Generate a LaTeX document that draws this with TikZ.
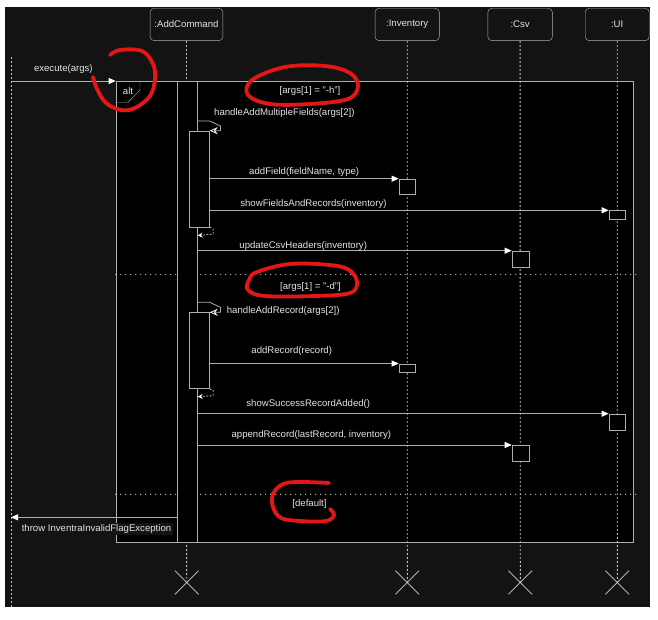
\documentclass[tikz,border=0pt]{standalone}
\usepackage{fontspec}
\setmainfont{Liberation Sans}
\usetikzlibrary{arrows.meta,shapes.misc}
\definecolor{bgcol}{RGB}{19,19,19}
\definecolor{lncol}{RGB}{175,175,175}
\definecolor{txtcol}{RGB}{228,228,228}
\definecolor{markred}{RGB}{228,22,22}
\tikzset{
  participant/.style={draw=lncol, fill=bgcol, rounded corners=4pt, minimum height=32.4pt},
  lifeline/.style={draw=lncol!80!white, line width=0.9pt, dash pattern=on 2pt off 2pt},
  destroy/.style={draw=lncol, cross out, minimum size=23pt, line width=0.8pt},
  altframe/.style={draw=lncol, fill=black, anchor=north west},
  act/.style={draw=lncol, fill=black, anchor=north west},
  sep/.style={draw=lncol!70!white, line width=1.4pt, line cap=round, dash pattern=on 0pt off 5pt},
  msg/.style={draw=lncol, line width=0.8pt, -{Triangle[length=7pt,width=6pt,color=white]}},
  selfcall/.style={draw=lncol, line width=0.8pt, -{Stealth[open,length=8pt,width=7pt,color=white]}},
  ret/.style={draw=lncol, line width=0.8pt, dash pattern=on 2pt off 1.5pt, -{Stealth[length=5pt,width=5pt,color=white]}},
  annot/.style={draw=markred, line width=3.8pt, line cap=round, line join=round}
}
\begin{document}
\begin{tikzpicture}[x=1pt,y=-1pt,every node/.style={font=\fontsize{9.6}{11.5}\selectfont, text=txtcol, inner sep=0pt}]
\fill[white] (0,0) rectangle (658,620);
\useasboundingbox (0,0) rectangle (658,620);
\fill[bgcol] (5,7.5) rectangle (650,607);

\node[participant, minimum width=72.7pt] at (186.5,24.5) (addcmd) {:AddCommand};
\node[participant, minimum width=64.3pt] at (407.2,24.5) (inv) {:Inventory};
\node[participant, minimum width=64.6pt] at (520.1,24.5) (csv) {:Csv};
\node[participant, minimum width=64pt] at (617.2,24.5) (ui) {:UI};

\node[altframe, minimum width=517.3pt, minimum height=461pt] at (115.7,81) (alt) {};

\node[destroy] at (186.7,582.5) (xadd) {};
\node[destroy] at (407.3,582.5) (xinv) {};
\node[destroy] at (520.3,582.5) (xcsv) {};
\node[destroy] at (617.3,582.5) (xui) {};
\draw[lifeline] (addcmd.south) -- (xadd.center);
\draw[lifeline] (inv.south) -- (xinv.center);
\draw[lifeline] (csv.south) -- (xcsv.center);
\draw[lifeline] (ui.south) -- (xui.center);
\coordinate (caller) at (11,57);
\coordinate (callerend) at (11,607);
\draw[lifeline] (caller) -- (callerend);

\draw[sep] (alt.west |- 0,274.5) -- ++(524.3,0);
\draw[sep] (alt.west |- 0,494.3) -- ++(524.3,0);
\draw[draw=lncol] (alt.north west) ++(24.3,0) -- ++(0,9) -- ++(-12,12.3) -- (alt.north west |- 0,102.3);
\node at (128,91) (alttag) {alt};

\node[act, minimum width=20.6pt, minimum height=461pt] at (176.7,81) (main) {};
\node[act, minimum width=20.6pt, minimum height=96pt] at (188.7,130.7) (inner1) {};
\node[act, minimum width=20.6pt, minimum height=76pt] at (188.7,312.3) (inner2) {};
\node[act, minimum width=16.6pt, minimum height=15.6pt] at (398.7,178.7) (inv1) {};
\node[act, minimum width=16.6pt, minimum height=8.4pt] at (608.7,210.3) (ui1) {};
\node[act, minimum width=17pt, minimum height=16pt] at (511.7,250.7) (csv1) {};
\node[act, minimum width=16.6pt, minimum height=8.8pt] at (398.7,363.5) (inv2) {};
\node[act, minimum width=16.6pt, minimum height=16pt] at (608.7,413.7) (ui2) {};
\node[act, minimum width=17pt, minimum height=16.3pt] at (511.7,445) (csv2) {};

\draw[msg] (caller |- alt.north) -- (alt.north west) node[midway, yshift=12pt] {execute(args)};
\draw[selfcall] (main.east |- 0,121) -- ++(12,0) -- ++(10.7,5) |- (inner1.north east);
\node[anchor=west] at (214,113.5) (hamf) {handleAddMultipleFields(args[2])};
\draw[msg] (inner1.east |- inv1.north) -- (inv1.north west) node[midway, yshift=6.7pt] {addField(fieldName, type)};
\draw[msg] (inner1.east |- ui1.north) -- (ui1.north west) node[pos=0.26, yshift=6pt] {showFieldsAndRecords(inventory)};
\draw[ret] (inner1.south east) -- ++(3.5,2) -- ++(0,5) -- (main.east |- 0,235.5);
\draw[msg] (main.east |- csv1.north) -- (csv1.north west) node[pos=0.336, yshift=5pt] {updateCsvHeaders(inventory)};

\draw[selfcall] (main.east |- 0,302.3) -- ++(12,0) -- ++(10.7,5) |- (inner2.north east);
\node[anchor=west] at (226.7,311) (har) {handleAddRecord(args[2])};
\draw[msg] (inner2.east |- inv2.north) -- (inv2.north west) node[pos=0.434, yshift=12.7pt] {addRecord(record)};
\draw[ret] (inner2.south east) -- ++(3.5,2) -- ++(0,5) -- (main.east |- 0,396.7);
\draw[msg] (main.east |- ui2.north) -- (ui2.north west) node[pos=0.269, yshift=9.6pt] {showSuccessRecordAdded()};
\draw[msg] (main.east |- csv2.north) -- (csv2.north west) node[pos=0.362, yshift=10pt] {appendRecord(lastRecord, inventory)};

\draw[msg] (main.west |- 0,517.3) -- (caller |- 0,517.3) node[pos=0.484, yshift=-11.4pt, fill=bgcol, inner sep=1.5pt] {throw InventraInvalidFlagException};

\node at (310,91) (guardh) {[args[1] = "-h"]};
\node at (310.5,287.3) (guardd) {[args[1] = "-d"]};
\node at (309.5,504) (guarddef) {[default]};

\draw[annot] plot[smooth, tension=0.6] coordinates {(110,55) (120,50) (142,51) (153,64) (155,79) (150,96) (135,108) (121,110) (106,103) (97,89) (93,77)};
\draw[annot] plot[smooth cycle, tension=0.6] coordinates {(252,80) (285,67) (325,66) (350,73) (358,86) (348,99) (310,104) (270,104) (248,95)};
\draw[annot] plot[smooth cycle, tension=0.6] coordinates {(257,272) (290,264) (330,265) (349,270) (357,282) (350,293) (315,296) (265,296) (248,290) (249,280)};
\draw[annot] plot[smooth, tension=0.6] coordinates {(329,483) (300,482) (283,484) (273,494) (273,507) (281,518) (300,521) (326,521) (334,515) (330,509)};
\end{tikzpicture}
\end{document}
